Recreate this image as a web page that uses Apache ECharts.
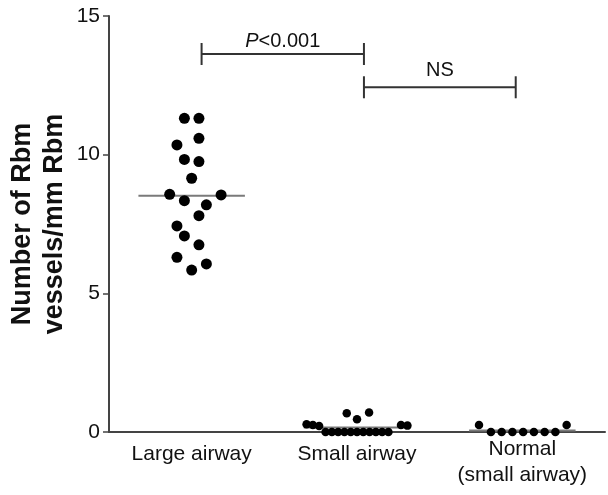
<!DOCTYPE html>
<html>
<head>
<meta charset="utf-8">
<script src="https://cdn.jsdelivr.net/npm/echarts@6/dist/echarts.min.js"></script>
<style>
html,body{margin:0;padding:0;background:#fff;}
#chart{width:608px;height:495px;}
</style>
</head>
<body>
<div id="chart"></div>
<script>
// ---- data ----
const categories = ['Large airway', 'Small airway', 'Normal\n(small airway)'];
const yTicks = [0, 5, 10, 15];

const largeAirway = [11.31, 11.31, 10.59, 10.35, 9.83, 9.75, 9.15, 8.57, 8.55, 8.34, 8.19, 7.80, 7.43, 7.07, 6.75, 6.30, 6.06, 5.84];
const largeJitter = [-0.044, 0.044, 0.044, -0.089, -0.044, 0.044, 0, -0.133, 0.178, -0.044, 0.089, 0.044, -0.089, -0.044, 0.044, -0.089, 0.089, 0];

const smallAirway = [0.70, 0.68, 0.46, 0.28, 0.25, 0.22, 0.25, 0.23, 0, 0, 0, 0, 0, 0, 0, 0, 0, 0, 0];
const smallJitter = [0.073, -0.062, 0, -0.305, -0.267, -0.229, 0.266, 0.305, -0.19, -0.152, -0.114, -0.076, -0.038, 0, 0.038, 0.076, 0.114, 0.152, 0.19];

const normalAirway = [0.25, 0.25, 0, 0, 0, 0, 0, 0, 0];
const normalJitter = [-0.262, 0.268, -0.19, -0.125, -0.06, 0.005, 0.07, 0.135, 0.2];

const groupMeans = [8.52, 0.16, 0.05];

const comparisonLabels = ['P<0.001', 'NS'];

// ---- chart ----
const FONT = "'Liberation Sans', Arial, Helvetica, sans-serif";
const brackets = [
  { x1: 0.06, x2: 1.042, y: 13.63, gap: 3 },
  { x1: 1.042, x2: 1.96, y: 12.43, gap: 6.5 }
];

function pts(vals, jit, idx) {
  return vals.map((v, i) => [idx + jit[i], v]);
}

const chart = echarts.init(document.getElementById('chart'), null, { renderer: 'canvas' });

const categoryData = categories.map((c) => ({
  value: c,
  textStyle: { lineHeight: c.indexOf('\n') >= 0 ? 26 : 36 }
}));

const dotStyle = { color: '#000', opacity: 1 };

const option = {
  backgroundColor: '#fff',
  animation: false,
  grid: { left: 109, right: 3, top: 16, bottom: 63, containLabel: false, outerBoundsMode: 'none' },
  xAxis: [
    {
      type: 'category',
      data: categoryData,
      boundaryGap: true,
      axisLine: { lineStyle: { color: '#444', width: 2 } },
      axisTick: { alignWithLabel: true, length: 6, lineStyle: { color: '#444', width: 1.5 } },
      axisLabel: { color: '#111', fontSize: 21, fontFamily: FONT, margin: 4, interval: 0 },
      splitLine: { show: false }
    },
    {
      type: 'value', min: -0.5, max: 2.5, show: false
    }
  ],
  yAxis: {
    type: 'value',
    min: yTicks[0], max: yTicks[yTicks.length - 1], interval: 5,
    name: 'Number of Rbm\nvessels/mm Rbm',
    nameLocation: 'middle',
    nameRotate: 90,
    nameGap: 38,
    nameMoveOverlap: false,
    nameTextStyle: { fontSize: 27, fontWeight: 'bold', fontFamily: FONT, color: '#111', lineHeight: 32 },
    axisLine: { show: true, onZero: false, lineStyle: { color: '#444', width: 2 } },
    axisTick: { show: true, length: 6, lineStyle: { color: '#444', width: 1.5 } },
    axisLabel: { color: '#111', fontSize: 21, fontFamily: FONT, margin: 9 },
    splitLine: { show: false }
  },
  series: [
    {
      type: 'custom',
      xAxisIndex: 1,
      z: 1,
      data: groupMeans.map((m, i) => [i, m]),
      renderItem: function (params, api) {
        const i = api.value(0), m = api.value(1);
        const a = api.coord([i - 0.322, m]);
        const b = api.coord([i + 0.322, m]);
        return { type: 'line', shape: { x1: a[0], y1: a[1], x2: b[0], y2: b[1] }, style: { stroke: '#7a7a7a', lineWidth: 2 } };
      }
    },
    { type: 'scatter', xAxisIndex: 1, z: 3, symbol: 'circle', symbolSize: 11, itemStyle: dotStyle, data: pts(largeAirway, largeJitter, 0) },
    { type: 'scatter', xAxisIndex: 1, z: 3, symbol: 'circle', symbolSize: 8.5, itemStyle: dotStyle, data: pts(smallAirway, smallJitter, 1) },
    { type: 'scatter', xAxisIndex: 1, z: 3, symbol: 'circle', symbolSize: 8.5, itemStyle: dotStyle, data: pts(normalAirway, normalJitter, 2) },
    {
      type: 'custom',
      xAxisIndex: 1,
      z: 4,
      clip: false,
      data: comparisonLabels.map((t, i) => [i]),
      renderItem: function (params, api) {
        const k = params.dataIndex;
        const br = brackets[k];
        const p1 = api.coord([br.x1, br.y]);
        const p2 = api.coord([br.x2, br.y]);
        const h = 11;
        const st = { stroke: '#333', lineWidth: 2 };
        const label = comparisonLabels[k];
        const txt = label.charAt(0) === 'P' ? '{i|P}{n|' + label.slice(1) + '}' : '{n|' + label + '}';
        return {
          type: 'group',
          children: [
            { type: 'line', shape: { x1: p1[0], y1: p1[1], x2: p2[0], y2: p2[1] }, style: st },
            { type: 'line', shape: { x1: p1[0], y1: p1[1] - h, x2: p1[0], y2: p1[1] + h }, style: st },
            { type: 'line', shape: { x1: p2[0], y1: p2[1] - h, x2: p2[0], y2: p2[1] + h }, style: st },
            {
              type: 'text',
              style: {
                text: txt,
                x: (p1[0] + p2[0]) / 2,
                y: p1[1] - br.gap,
                align: 'center',
                verticalAlign: 'bottom',
                fill: '#111',
                rich: {
                  i: { fontSize: 20, fontStyle: 'italic', fontFamily: FONT, fill: '#111' },
                  n: { fontSize: 20, fontFamily: FONT, fill: '#111' }
                }
              }
            }
          ]
        };
      }
    }
  ]
};

chart.setOption(option);
</script>
</body>
</html>
